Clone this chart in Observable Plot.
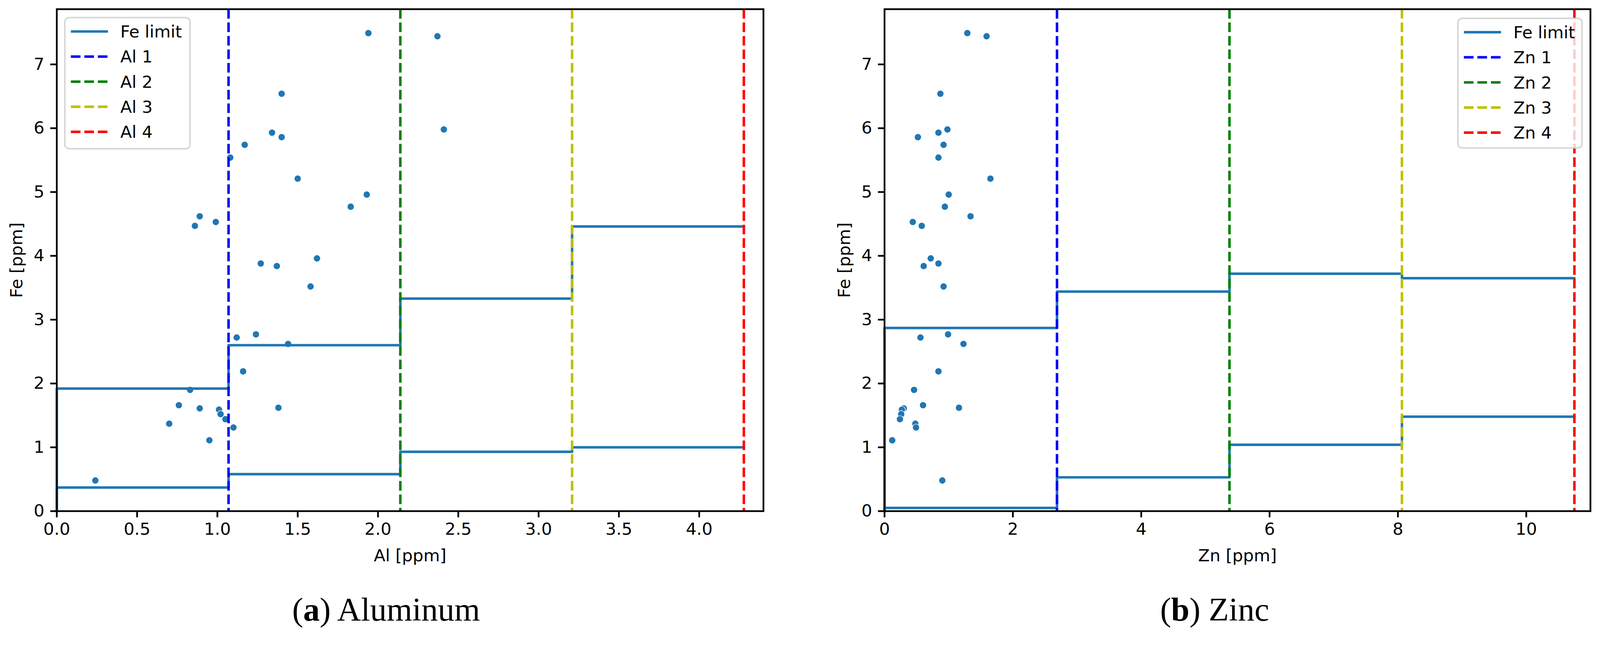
<!DOCTYPE html>
<html><head><meta charset="utf-8">
<script src="https://cdn.jsdelivr.net/npm/d3@7"></script>
<script src="https://cdn.jsdelivr.net/npm/@observablehq/plot@0.6"></script>
<style>
html,body{margin:0;padding:0;background:#fff;overflow:hidden;}
#root{position:relative;width:4268px;height:1696px;overflow:hidden;background:#fff;transform-origin:0 0;}
.panel{position:absolute;top:0;}
#overlay{position:absolute;left:0;top:0;pointer-events:none;}
</style></head><body><div id="root"></div>
<script>
// ---- data ----
const fe = [7.49, 7.44, 6.54, 5.98, 5.93, 5.86, 5.74, 5.54, 5.21, 4.96, 4.77, 4.62, 4.53, 4.47, 3.96, 3.88, 3.84, 3.52, 2.77, 2.72, 2.62, 2.19, 1.90, 1.66, 1.62, 1.61, 1.59, 1.52, 1.44, 1.37, 1.31, 1.11, 0.48];
const al = [1.94, 2.37, 1.40, 2.41, 1.34, 1.40, 1.17, 1.08, 1.50, 1.93, 1.83, 0.89, 0.99, 0.86, 1.62, 1.27, 1.37, 1.58, 1.24, 1.12, 1.44, 1.16, 0.83, 0.76, 1.38, 0.89, 1.01, 1.02, 1.05, 0.70, 1.10, 0.95, 0.24];
const zn = [1.29, 1.59, 0.87, 0.98, 0.84, 0.52, 0.92, 0.84, 1.65, 1.00, 0.94, 1.34, 0.44, 0.58, 0.72, 0.84, 0.61, 0.92, 0.99, 0.56, 1.23, 0.84, 0.46, 0.60, 1.16, 0.30, 0.27, 0.26, 0.24, 0.48, 0.49, 0.12, 0.90];

const alBounds = [1.0695, 2.139, 3.2085, 4.278];
const znBounds = [2.6875, 5.375, 8.0625, 10.75];
const alUpper = [0, 1.92, 2.60, 3.33, 4.46];
const alLower = [0, 0.37, 0.58, 0.93, 1.00];
const znUpper = [0, 2.87, 3.44, 3.72, 3.65];
const znLower = [0, 0.05, 0.53, 1.04, 1.48];

const alTicks = [0, 0.5, 1, 1.5, 2, 2.5, 3, 3.5, 4];
const znTicks = [0, 2, 4, 6, 8, 10];
const feTicks = [0, 1, 2, 3, 4, 5, 6, 7];

const boundColors = ["#0000ff", "#008000", "#bfbf00", "#ff0000"];
const alLegend = ["Fe limit", "Al 1", "Al 2", "Al 3", "Al 4"];
const znLegend = ["Fe limit", "Zn 1", "Zn 2", "Zn 3", "Zn 4"];
const captions = [["a", "Aluminum"], ["b", "Zinc"]];

// ---- styling ----
const BLUE = "#1f77b4";
const FONT = "DejaVu Sans";
const DASH = "25.7,10.3";
const LW = 6.7;
const SPINE = 4.6;

function panel(o) {
  const stepX = [0, ...o.bounds];
  const upper = stepX.map((x, i) => ({x, y: o.upper[i]}));
  const lower = stepX.map((x, i) => ({x, y: o.lower[i]}));
  const pts = fe.map((f, i) => ({x: o.xs[i], y: f}));
  const rules = o.bounds.map((b, i) => ({x: b, c: boundColors[i]}));
  return Plot.plot({
    width: o.width, height: 1540,
    marginLeft: o.ml, marginRight: o.mr, marginTop: 24, marginBottom: 176,
    style: {fontFamily: FONT, fontSize: "45px", background: "white", overflow: "visible", maxWidth: "none"},
    x: {domain: o.xDomain},
    y: {domain: [0, 7.865]},
    color: {type: "identity"},
    marks: [
      Plot.dot(pts, {x: "x", y: "y", r: 9.3, fill: BLUE, stroke: "white", strokeWidth: 1.5}),
      Plot.line(upper, {x: "x", y: "y", curve: "step-before", stroke: BLUE, strokeWidth: LW}),
      Plot.line(lower, {x: "x", y: "y", curve: "step-before", stroke: BLUE, strokeWidth: LW}),
      Plot.ruleX(rules, {x: "x", stroke: "c", strokeWidth: LW, strokeDasharray: DASH}),
      Plot.frame({stroke: "black", strokeWidth: SPINE}),
      Plot.axisX({ticks: o.xTicks, tickFormat: o.xFormat, tickSize: 17, tickPadding: 14, strokeWidth: SPINE,
        fontSize: 45, label: o.xLabel, labelAnchor: "center", labelArrow: "none", labelOffset: 134}),
      Plot.axisY({ticks: feTicks, tickFormat: d3.format("d"), tickSize: 17, tickPadding: 16, strokeWidth: SPINE,
        fontSize: 45, label: "Fe [ppm]", labelAnchor: "center", labelArrow: "none", labelOffset: 124})
    ]
  });
}

const root = document.getElementById("root");
const pa = panel({width: 2100, ml: 151, mr: 64, xDomain: [0, 4.40], xTicks: alTicks, xFormat: d3.format(".1f"),
  xLabel: "Al [ppm]", xs: al, bounds: alBounds, upper: alUpper, lower: alLower});
pa.classList.add("panel"); pa.style.left = "0px";
root.appendChild(pa);
const pb = panel({width: 2068, ml: 159, mr: 26, xDomain: [0, 11.0], xTicks: znTicks, xFormat: d3.format("d"),
  xLabel: "Zn [ppm]", xs: zn, bounds: znBounds, upper: znUpper, lower: znLower});
pb.classList.add("panel"); pb.style.left = "2200px";
root.appendChild(pb);

// ---- overlay: legends and captions ----
const ov = d3.select(root).append("svg").attr("id", "overlay").attr("width", 4268).attr("height", 1696);

function legend(x, y, w, h, labels) {
  const g = ov.append("g").attr("transform", `translate(${x},${y})`);
  g.append("rect").attr("width", w).attr("height", h).attr("rx", 11)
    .attr("fill", "white").attr("fill-opacity", 0.8)
    .attr("stroke", "#cccccc").attr("stroke-opacity", 0.8).attr("stroke-width", 4);
  labels.forEach((lab, i) => {
    const cy = 37 + i * 67;
    g.append("line").attr("x1", 16).attr("x2", 115).attr("y1", cy).attr("y2", cy)
      .attr("stroke", i === 0 ? BLUE : boundColors[i - 1])
      .attr("stroke-width", LW)
      .attr("stroke-dasharray", i === 0 ? null : DASH);
    g.append("text").attr("x", 148).attr("y", cy).attr("dy", "0.36em")
      .attr("font-family", FONT).attr("font-size", 45).attr("fill", "black").text(lab);
  });
}
legend(173, 47, 334, 350, alLegend);
legend(3889, 49, 331, 346, znLegend);

function caption(cx, letter, word) {
  const t = ov.append("text").attr("x", cx).attr("y", 1657).attr("text-anchor", "middle")
    .attr("font-family", "Liberation Serif").attr("font-size", 88).attr("fill", "black");
  t.append("tspan").text("(");
  t.append("tspan").attr("font-weight", "bold").text(letter);
  t.append("tspan").text(") " + word);
}
caption(1030, captions[0][0], captions[0][1]);
caption(3240, captions[1][0], captions[1][1]);

// fit the 4268x1696 layout into the actual viewport
const vw = Math.min(window.innerWidth || 4268, document.documentElement.clientWidth || 4268);
const vh = Math.min(window.innerHeight || 1696, document.documentElement.clientHeight || 1696);
const s = Math.min(vw / 4268, vh / 1696);
if (s < 0.999) root.style.transform = `scale(${s})`;
</script></body></html>
